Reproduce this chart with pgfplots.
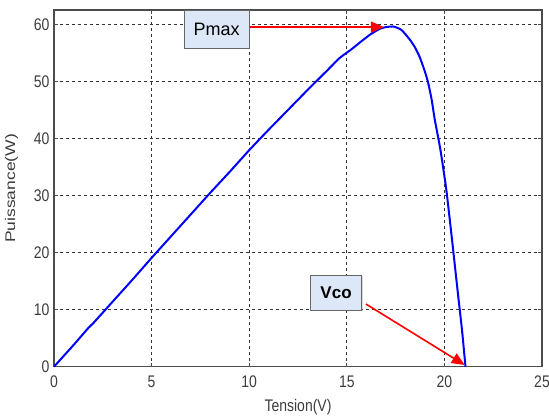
\documentclass[border=0pt]{standalone}
\usepackage{pgfplots}
\pgfplotsset{compat=1.18}
\usepackage{fontspec}
\setmainfont{Liberation Sans}
\usetikzlibrary{arrows.meta,shadows}
\definecolor{boxfill}{RGB}{220,232,247}
\definecolor{ticktext}{RGB}{60,60,60}
\begin{document}
\begin{tikzpicture}[x=1pt,y=1pt]
\begin{axis}[
  at={(54pt,49.3pt)}, anchor=south west,
  scale only axis, width=488pt, height=356.7pt,
  xmin=0, xmax=25, ymin=0, ymax=62.6,
  xtick={0,5,10,15,20,25}, ytick={0,10,20,30,40,50,60},
  grid=major,
  major grid style={black!80, line width=1pt, dash pattern=on 3pt off 3pt},
  axis line style={black!70, line width=1.4pt},
  tick style={black!70, line width=1pt},
  major tick length=4pt,
  tick align=inside,
  tick pos=both,
  ticklabel style={font=\fontsize{14}{16}\selectfont, text=ticktext, yscale=1.2},
  xticklabel style={yshift=-4pt},
  yticklabel style={xshift=-1pt},
  /pgf/number format/assume math mode=true,
  xlabel={Tension(V)}, ylabel={Puissance(W)},
  label style={font=\fontsize{14}{16}\selectfont, text=ticktext},
  xlabel style={yshift=-3pt, yscale=1.2},
  ylabel style={yshift=9pt, xscale=1.25},
  clip=false,
]
\addplot[blue, line width=2pt, smooth, tension=0.3] coordinates {
(0,0) (1,3.8) (1.76,6.8) (2,7.6) (3,11.4) (4,15.2) (5,19.1) (6,22.9) (7,26.7)
(8,30.5) (9,34.2) (10,38.0) (11,41.6) (12,45.1) (13,48.6) (14,52.0) (14.64,54.2)
(15.2,55.6) (15.67,56.9) (16.2,58.3) (16.69,59.3) (17.0,59.6) (17.4,59.7)
(17.8,59.1) (18.23,57.4) (18.5,56.0) (18.74,54.3) (19.0,51.8) (19.17,49.8)
(19.35,46.8) (19.51,43.3) (19.8,38.0) (20.1,31.0) (20.4,22.0) (20.7,12.6)
(20.9,6.5) (21.08,0)
};
\draw[red, line width=1.6pt, -{Triangle[length=13pt,width=11pt]}] (axis cs:10.04,59.6) -- (axis cs:16.9,59.6);
\draw[red, line width=1.6pt, -{Triangle[length=13pt,width=11pt]}] (axis cs:15.98,11.0) -- (axis cs:21.04,0.3);
\node[draw=black!60, line width=1pt, fill=boxfill, minimum width=65pt, minimum height=38pt, inner sep=0pt,
  font=\fontsize{18}{20}\selectfont, drop shadow={shadow xshift=1pt, shadow yshift=-1pt, opacity=0.3}]
  at (axis cs:8.33,59.2) {Pmax};
\node[draw=black!60, line width=1pt, fill=boxfill, minimum width=51pt, minimum height=35pt, inner sep=0pt,
  font=\fontsize{17}{19}\selectfont\bfseries, drop shadow={shadow xshift=1pt, shadow yshift=-1pt, opacity=0.3}]
  at (axis cs:14.45,13.0) {Vco};
\end{axis}
\pgfresetboundingbox
\useasboundingbox (0,0) rectangle (549,416);
\end{tikzpicture}
\end{document}
